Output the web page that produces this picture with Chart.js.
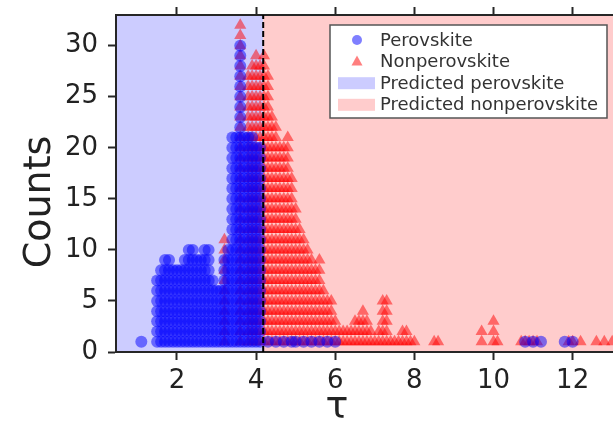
<!DOCTYPE html>
<html>
<head>
<meta charset="utf-8">
<script src="https://cdn.jsdelivr.net/npm/chart.js@4.4.0/dist/chart.umd.min.js"></script>
<style>
  html, body { margin: 0; padding: 0; background: #fff; overflow: hidden; }
  #wrap { width: 613px; height: 432px; }
</style>
</head>
<body>
<div id="wrap"><canvas id="chart" width="613" height="432"></canvas></div>
<script>
// tau bins and stacked counts
const perovskiteTau = [1.1, 1.5, 1.6, 1.7, 1.8, 1.9, 2.0, 2.1, 2.2, 2.3, 2.4, 2.5, 2.6, 2.7, 2.8, 2.9, 3.0, 3.1, 3.2, 3.3,
  3.4, 3.5, 3.6, 3.7, 3.8, 3.9, 4.0, 4.1,
  4.3, 4.5, 4.7, 4.9, 5.0, 5.2, 5.4, 5.6, 5.8, 6.0,
  10.8, 11.0, 11.2, 11.8, 12.0];
const perovskiteCounts = [1, 7, 8, 9, 9, 8, 8, 8, 9, 10, 10, 9, 9, 10, 10, 7, 6, 6, 9, 10,
  21, 21, 30, 21, 21, 21, 20, 20,
  1, 1, 1, 1, 1, 1, 1, 1, 1, 1,
  1, 1, 1, 1, 1];

const nonperovskiteTau = [3.2, 3.6,
  3.8, 3.9, 4.0, 4.1, 4.2, 4.3, 4.4, 4.5, 4.6, 4.7, 4.8, 4.9, 5.0, 5.1, 5.2, 5.3, 5.4, 5.5, 5.6, 5.7,
  5.8, 5.9, 6.0, 6.1, 6.2, 6.3, 6.4, 6.5, 6.6, 6.7, 6.8, 6.9, 7.0, 7.1, 7.2, 7.3, 7.4, 7.5, 7.6, 7.7,
  7.8, 7.9, 8.0, 8.5, 8.6, 9.7, 10.0, 10.1, 10.7, 10.8, 10.9, 11.0, 11.1, 11.9, 12.0, 12.2, 12.6, 12.8, 13.0];
const nonperovskiteCounts = [11, 32,
  27, 28, 29, 28, 29, 27, 23, 22, 20, 20, 21, 17, 14, 12, 11, 10, 9, 8, 9, 6,
  5, 5, 3, 2, 2, 2, 2, 3, 3, 4, 3, 2, 1, 2, 5, 5, 1, 1, 1, 2,
  2, 1, 1, 1, 1, 2, 3, 1, 1, 1, 1, 1, 1, 1, 1, 1, 1, 1, 1];

const threshold = 4.18;
const xTicks = [2, 4, 6, 8, 10, 12];
const yTicks = [0, 5, 10, 15, 20, 25, 30];
const legendLabels = ['Perovskite', 'Nonperovskite', 'Predicted perovskite', 'Predicted nonperovskite'];
const xTitle = 'τ';
const yTitle = 'Counts';

const xMin = 0.46, xMax = 13.02, yMin = 0, yMax = 33;
const axisColor = '#262626';
const textColor = '#222';
const perovColor = 'rgba(0, 0, 255, 0.5)';
const nonperovColor = 'rgba(255, 0, 0, 0.5)';
const perovRegion = 'rgb(204, 204, 255)';
const nonperovRegion = 'rgb(255, 204, 204)';

// one point per sample, stacked in its bin
function stackPoints(taus, counts) {
  const pts = [];
  taus.forEach((t, i) => {
    for (let k = 1; k <= counts[i]; k++) pts.push({ x: t, y: k });
  });
  return pts;
}

const regionPlugin = {
  id: 'regions',
  beforeDraw(chart) {
    const { ctx, chartArea: a, scales: { x } } = chart;
    const xs = x.getPixelForValue(threshold);
    ctx.save();
    ctx.fillStyle = perovRegion;
    ctx.fillRect(a.left, a.top, xs - a.left, a.bottom - a.top);
    ctx.fillStyle = nonperovRegion;
    ctx.fillRect(xs, a.top, a.right - xs, a.bottom - a.top);
    ctx.restore();
  },
  afterDatasetsDraw(chart) {
    const { ctx, chartArea: a, scales: { x } } = chart;
    const xs = x.getPixelForValue(threshold);
    ctx.save();
    ctx.strokeStyle = '#000';
    ctx.lineWidth = 2;
    ctx.setLineDash([6, 3]);
    ctx.beginPath();
    ctx.moveTo(xs, a.bottom);
    ctx.lineTo(xs, a.top);
    ctx.stroke();
    ctx.restore();
  },
  afterDraw(chart) {
    const { ctx, chartArea: a } = chart;

    // axis titles (placed as in the cropped original figure)
    ctx.save();
    ctx.fillStyle = textColor;
    ctx.font = '38px "DejaVu Sans"';
    ctx.textAlign = 'center';
    ctx.textBaseline = 'middle';
    ctx.fillText(xTitle, a.left + 221, a.bottom + 56);
    ctx.translate(40, a.top + 187);
    ctx.rotate(-Math.PI / 2);
    ctx.fillText(yTitle, 0, 0);
    ctx.restore();

    // legend
    const boxW = 277, boxH = 93;
    const bx = a.right - 6 - boxW, by = a.top + 10;
    ctx.save();
    ctx.fillStyle = '#fff';
    ctx.fillRect(bx, by, boxW, boxH);
    ctx.strokeStyle = '#555';
    ctx.lineWidth = 1.5;
    ctx.strokeRect(bx, by, boxW, boxH);
    const rowH = 21.6;
    const keyX = bx + 27;
    const textX = bx + 50;
    ctx.font = '18px "DejaVu Sans"';
    ctx.textBaseline = 'middle';
    legendLabels.forEach((label, i) => {
      const cy = by + 15 + i * rowH;
      if (i === 0) {
        ctx.fillStyle = perovColor;
        ctx.beginPath();
        ctx.arc(keyX, cy, 5, 0, Math.PI * 2);
        ctx.fill();
      } else if (i === 1) {
        ctx.fillStyle = nonperovColor;
        ctx.beginPath();
        ctx.moveTo(keyX, cy - 6);
        ctx.lineTo(keyX + 5.5, cy + 4);
        ctx.lineTo(keyX - 5.5, cy + 4);
        ctx.closePath();
        ctx.fill();
      } else {
        ctx.fillStyle = i === 2 ? perovRegion : nonperovRegion;
        ctx.fillRect(bx + 8, cy - 6, 37, 12);
      }
      ctx.fillStyle = '#333';
      ctx.fillText(label, textX, cy + 1);
    });
    ctx.restore();
  }
};

const tickGrid = {
  drawOnChartArea: false,
  drawTicks: true,
  tickLength: 8,
  tickWidth: 2,
  tickColor: axisColor
};

function fixSize(prop, size) {
  return (scale) => {
    scale[prop] = size;
    scale.paddingTop = 0;
    scale.paddingBottom = 0;
    scale.paddingLeft = 0;
    scale.paddingRight = 0;
  };
}

new Chart(document.getElementById('chart'), {
  type: 'scatter',
  data: {
    datasets: [
      {
        label: legendLabels[0],
        data: stackPoints(perovskiteTau, perovskiteCounts),
        pointStyle: 'circle',
        pointRadius: 6,
        backgroundColor: perovColor,
        borderColor: perovColor,
        borderWidth: 0
      },
      {
        label: legendLabels[1],
        data: stackPoints(nonperovskiteTau, nonperovskiteCounts),
        pointStyle: 'triangle',
        pointRadius: 7,
        backgroundColor: nonperovColor,
        borderColor: nonperovColor,
        borderWidth: 0
      }
    ]
  },
  options: {
    responsive: false,
    animation: false,
    layout: { padding: 0, autoPadding: false },
    plugins: {
      legend: { display: false },
      tooltip: { enabled: false }
    },
    scales: {
      x: {
        type: 'linear',
        position: 'bottom',
        min: xMin,
        max: xMax,
        afterBuildTicks: (scale) => { scale.ticks = xTicks.map(v => ({ value: v })); },
        afterFit: fixSize('height', 80),
        grid: tickGrid,
        border: { display: true, color: axisColor, width: 2 },
        ticks: {
          color: textColor,
          padding: 6,
          font: { family: 'DejaVu Sans', size: 26 },
          maxRotation: 0
        }
      },
      x2: {
        type: 'linear',
        position: 'top',
        min: xMin,
        max: xMax,
        afterBuildTicks: (scale) => { scale.ticks = xTicks.map(v => ({ value: v })); },
        afterFit: fixSize('height', 15),
        grid: tickGrid,
        border: { display: true, color: axisColor, width: 2 },
        ticks: { display: false }
      },
      y: {
        type: 'linear',
        min: yMin,
        max: yMax,
        afterBuildTicks: (scale) => { scale.ticks = yTicks.map(v => ({ value: v })); },
        afterFit: fixSize('width', 116),
        grid: tickGrid,
        border: { display: true, color: axisColor, width: 2 },
        ticks: {
          color: textColor,
          padding: 10,
          font: { family: 'DejaVu Sans', size: 26 }
        }
      }
    }
  },
  plugins: [regionPlugin]
});
</script>
</body>
</html>
